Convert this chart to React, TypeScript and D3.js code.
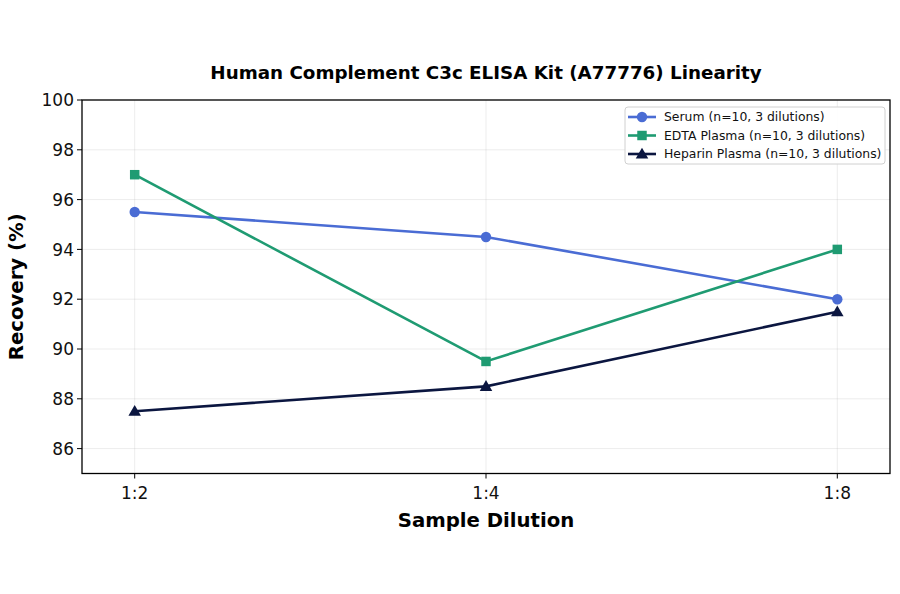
import React, { useEffect, useRef } from 'react';
import * as d3 from 'd3';

const dilutions = ['1:2', '1:4', '1:8'];
const serum = [95.5, 94.5, 92.0];
const edta = [97.0, 89.5, 94.0];
const heparin = [87.5, 88.5, 91.5];
const yTicks = [86, 88, 90, 92, 94, 96, 98, 100];

const seriesNames = ['Serum (n=10, 3 dilutions)', 'EDTA Plasma (n=10, 3 dilutions)', 'Heparin Plasma (n=10, 3 dilutions)'];
const seriesColors = ['#4a6cd4', '#1f9b72', '#0b1640'];
const seriesMarkers = ['circle', 'square', 'triangle'];

const App: React.FC = () => {
  const ref = useRef<SVGSVGElement>(null);

  useEffect(() => {
    if (!ref.current) return;
    const svg = d3.select(ref.current);
    svg.selectAll('*').remove();

    const margin = { top: 100, right: 10, bottom: 120.5, left: 82 };
    const W = 900, H = 594;
    const width = W - margin.left - margin.right;
    const height = H - margin.top - margin.bottom;
    const font = 'DejaVu Sans, sans-serif';

    const x = d3.scaleLinear().domain([-0.15, 2.15]).range([0, width]);
    const y = d3.scaleLinear().domain([85, 100]).range([height, 0]);

    const g = svg.append('g').attr('transform', `translate(${margin.left},${margin.top})`);

    // grid
    g.selectAll('.gy').data(yTicks).enter().append('line')
      .attr('x1', 0).attr('x2', width)
      .attr('y1', d => y(d)).attr('y2', d => y(d))
      .attr('stroke', '#b0b0b0').attr('stroke-opacity', 0.3).attr('stroke-width', 0.8);
    g.selectAll('.gx').data(dilutions).enter().append('line')
      .attr('x1', (d, i) => x(i)).attr('x2', (d, i) => x(i))
      .attr('y1', 0).attr('y2', height)
      .attr('stroke', '#b0b0b0').attr('stroke-opacity', 0.3).attr('stroke-width', 0.8);

    const symFor = (m: string) => m === 'circle' ? d3.symbolCircle : m === 'square' ? d3.symbolSquare : d3.symbolTriangle;
    const sizeFor = (m: string) => m === 'circle' ? 85 : m === 'square' ? 90 : 68;

    // series
    const all = [serum, edta, heparin];
    all.forEach((vals, si) => {
      const line = d3.line<number>().x((d, i) => x(i)).y(d => y(d));
      g.append('path').datum(vals).attr('d', line)
        .attr('fill', 'none').attr('stroke', seriesColors[si]).attr('stroke-width', 2.6);
      const m = seriesMarkers[si];
      g.selectAll(`.m${si}`).data(vals).enter().append('path')
        .attr('d', d3.symbol().type(symFor(m)).size(sizeFor(m))())
        .attr('transform', (d, i) => `translate(${x(i)},${y(d) + (m === 'triangle' ? 1 : 0)})`)
        .attr('fill', seriesColors[si]);
    });

    // frame
    g.append('rect').attr('width', width).attr('height', height)
      .attr('fill', 'none').attr('stroke', '#000').attr('stroke-width', 1.3);

    // y ticks
    yTicks.forEach(t => {
      g.append('line').attr('x1', -5).attr('x2', 0).attr('y1', y(t)).attr('y2', y(t)).attr('stroke', '#000').attr('stroke-width', 1);
      g.append('text').attr('x', -8).attr('y', y(t)).attr('dy', '0.36em')
        .attr('text-anchor', 'end').attr('font-family', font).attr('font-size', 17).attr('fill', '#111').text(t);
    });
    // x ticks
    dilutions.forEach((t, i) => {
      g.append('line').attr('x1', x(i)).attr('x2', x(i)).attr('y1', height).attr('y2', height + 5).attr('stroke', '#000').attr('stroke-width', 1);
      g.append('text').attr('x', x(i)).attr('y', height + 25)
        .attr('text-anchor', 'middle').attr('font-family', font).attr('font-size', 17).attr('fill', '#111').text(t);
    });

    // labels
    svg.append('text').attr('x', margin.left + width / 2).attr('y', 79)
      .attr('text-anchor', 'middle').attr('font-family', font).attr('font-weight', 'bold').attr('font-size', 18.3).text('Human Complement C3c ELISA Kit (A77776) Linearity');
    g.append('text').attr('x', x(1)).attr('y', height + 53)
      .attr('text-anchor', 'middle').attr('font-family', font).attr('font-weight', 'bold').attr('font-size', 19.7).text('Sample Dilution');
    svg.append('text').attr('transform', `translate(23,${margin.top + height / 2}) rotate(-90)`)
      .attr('text-anchor', 'middle').attr('font-family', font).attr('font-weight', 'bold').attr('font-size', 19.7).text('Recovery (%)');

    // legend
    const lg = svg.append('g').attr('transform', 'translate(625,107)');
    lg.append('rect').attr('width', 260).attr('height', 57).attr('rx', 3)
      .attr('fill', '#fff').attr('fill-opacity', 0.9).attr('stroke', '#d0d0d0').attr('stroke-width', 1);
    seriesNames.forEach((name, si) => {
      const yy = 10 + si * 18.5;
      const m = seriesMarkers[si];
      lg.append('line').attr('x1', 3).attr('x2', 31).attr('y1', yy).attr('y2', yy).attr('stroke', seriesColors[si]).attr('stroke-width', 2.6);
      lg.append('path').attr('d', d3.symbol().type(symFor(m)).size(sizeFor(m))())
        .attr('transform', `translate(17,${yy + (m === 'triangle' ? 1 : 0)})`).attr('fill', seriesColors[si]);
      lg.append('text').attr('x', 39).attr('y', yy).attr('dy', '0.36em')
        .attr('font-family', font).attr('font-size', 12.4).attr('fill', '#111').text(name);
    });
  }, []);

  return (
    <svg ref={ref} width={900} height={594} style={{ position: 'absolute', left: 0, top: 0, background: '#fff' }} />
  );
};

export default App;
